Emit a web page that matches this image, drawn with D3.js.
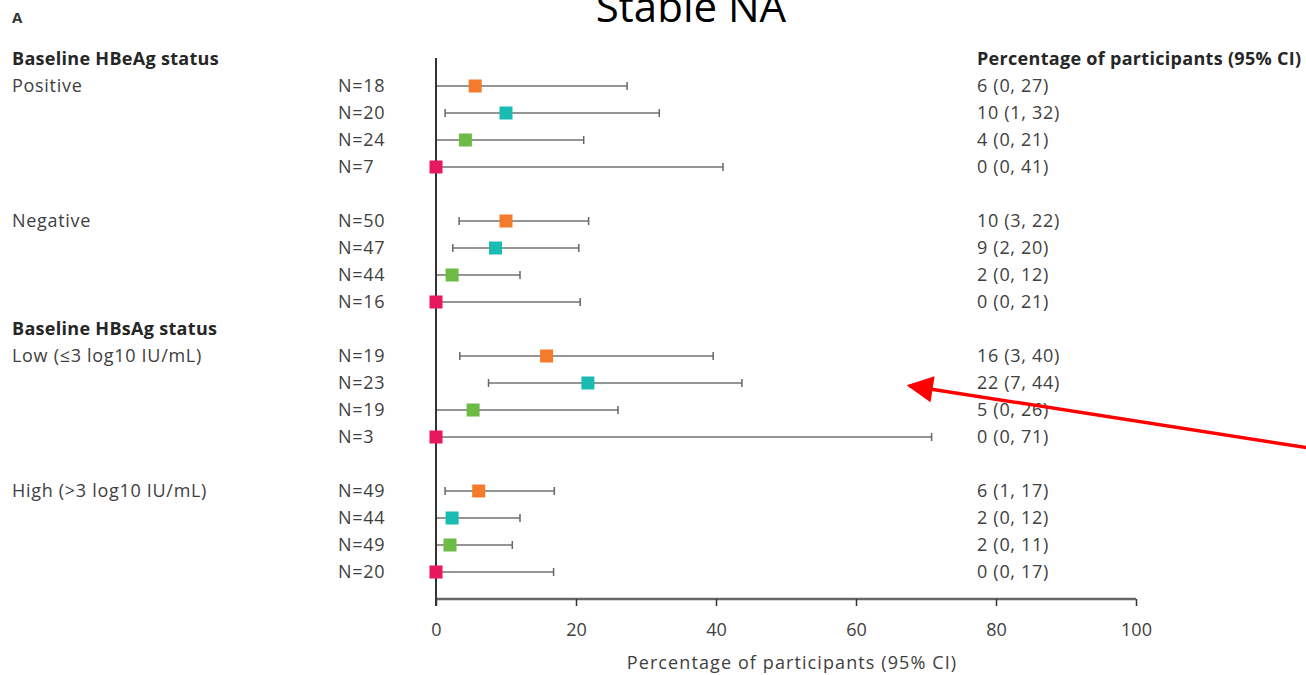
<!DOCTYPE html>
<html>
<head>
<meta charset="utf-8">
<script src="https://cdn.jsdelivr.net/npm/d3@7"></script>
<style>
  body { margin: 0; background: #fff; }
  text { font-family: "Open Sans", Lato, sans-serif; }
</style>
</head>
<body>
<div id="viz"></div>
<script>
const width = 1306;
const height = 675;

// group headers and subgroup labels
const headers = ['Baseline HBeAg status', 'Baseline HBsAg status'];
const headerRows = [-1, 9];
const subgroups = ['Positive', 'Negative', 'Low (\u22643 log10 IU/mL)', 'High (>3 log10 IU/mL)'];
const subgroupRows = [0, 5, 10, 15];

// 4 series per subgroup (orange, teal, green, pink)
const seriesColors = ['#F47B2B', '#1ABCB1', '#6CBB45', '#E8185F'];
const nLabels = ['N=18', 'N=20', 'N=24', 'N=7',
                 'N=50', 'N=47', 'N=44', 'N=16',
                 'N=19', 'N=23', 'N=19', 'N=3',
                 'N=49', 'N=44', 'N=49', 'N=20'];
const estimates = [5.6, 10, 4.2, 0,
                   10, 8.5, 2.3, 0,
                   15.8, 21.7, 5.3, 0,
                   6.1, 2.3, 2.0, 0];
const lowers = [0, 1.3, 0, 0,
                3.3, 2.4, 0, 0,
                3.4, 7.5, 0, 0,
                1.3, 0, 0, 0];
const uppers = [27.3, 31.9, 21.1, 41,
                21.8, 20.4, 12, 20.6,
                39.6, 43.7, 26, 70.8,
                16.9, 12, 10.9, 16.8];
const ciLabels = ['6 (0, 27)', '10 (1, 32)', '4 (0, 21)', '0 (0, 41)',
                  '10 (3, 22)', '9 (2, 20)', '2 (0, 12)', '0 (0, 21)',
                  '16 (3, 40)', '22 (7, 44)', '5 (0, 26)', '0 (0, 71)',
                  '6 (1, 17)', '2 (0, 12)', '2 (0, 11)', '0 (0, 17)'];
const xTicks = [0, 20, 40, 60, 80, 100];

// red arrow annotation, in data units [percent, row]
const arrowFrom = [124.5, 13.4];
const arrowTo = [67.6, 11.1];

const rows = nLabels.map((n, i) => {
  const g = Math.floor(i / 4);
  return {
    n: n,
    row: subgroupRows[g] + (i % 4),
    est: estimates[i],
    lo: lowers[i],
    hi: uppers[i],
    label: ciLabels[i],
    color: seriesColors[i % 4]
  };
});

const svg = d3.select('#viz').append('svg')
  .attr('width', width)
  .attr('height', height);

const x = d3.scaleLinear().domain([0, 100]).range([436, 1136]);
const y = d3.scaleLinear().domain([0, 18]).range([86, 572]);
const axisY = 599;

const textCol = '#404040';
const fs = 18;

// helpers for the two text styles
const plain = sel => sel.attr('font-size', fs).attr('letter-spacing', 0.7).attr('fill', textCol);
const bold = sel => sel.attr('font-size', fs).attr('font-weight', 'bold')
  .attr('letter-spacing', 0.3).attr('fill', '#262626');

// title and panel letter
svg.append('text')
  .attr('x', 691).attr('y', 22)
  .attr('text-anchor', 'middle')
  .attr('font-size', 42)
  .attr('fill', '#000')
  .text('Stable NA');
svg.append('text')
  .attr('x', 12).attr('y', 23)
  .attr('font-size', 15).attr('font-weight', 'bold')
  .attr('fill', '#333')
  .text('A');

// headers
svg.selectAll('.hdr')
  .data(headers)
  .join('text')
  .attr('class', 'hdr')
  .attr('x', 12)
  .attr('y', (d, i) => y(headerRows[i]))
  .attr('dy', '0.35em')
  .call(bold)
  .text(d => d);

svg.append('text')
  .attr('x', 977).attr('y', y(-1)).attr('dy', '0.35em')
  .call(bold)
  .text('Percentage of participants (95% CI)');

svg.selectAll('.sub')
  .data(subgroups)
  .join('text')
  .attr('class', 'sub')
  .attr('x', 12)
  .attr('y', (d, i) => y(subgroupRows[i]))
  .attr('dy', '0.35em')
  .call(plain)
  .text(d => d);

// N labels
svg.selectAll('.nlab')
  .data(rows)
  .join('text')
  .attr('class', 'nlab')
  .attr('x', 338)
  .attr('y', d => y(d.row))
  .attr('dy', '0.35em')
  .call(plain)
  .text(d => d.n);

// CI labels on the right
svg.selectAll('.cilab')
  .data(rows)
  .join('text')
  .attr('class', 'cilab')
  .attr('x', 977)
  .attr('y', d => y(d.row))
  .attr('dy', '0.35em')
  .call(plain)
  .text(d => d.label);

// CI lines
svg.selectAll('.ci')
  .data(rows)
  .join('line')
  .attr('class', 'ci')
  .attr('x1', d => x(d.lo)).attr('x2', d => x(d.hi))
  .attr('y1', d => y(d.row)).attr('y2', d => y(d.row))
  .attr('stroke', '#959595').attr('stroke-width', 2);

const caps = rows.flatMap(d => [{ v: d.lo, row: d.row }, { v: d.hi, row: d.row }]);
svg.selectAll('.cap')
  .data(caps)
  .join('line')
  .attr('class', 'cap')
  .attr('x1', d => x(d.v)).attr('x2', d => x(d.v))
  .attr('y1', d => y(d.row) - 4).attr('y2', d => y(d.row) + 4)
  .attr('stroke', '#666').attr('stroke-width', 1.5);

// x axis
const xAxis = d3.axisBottom(x)
  .tickValues(xTicks)
  .tickSize(7)
  .tickPadding(17)
  .tickSizeOuter(7);
const gx = svg.append('g')
  .attr('transform', `translate(0,${axisY})`)
  .call(xAxis);
gx.select('.domain').attr('stroke', '#666').attr('stroke-width', 2.5)
  .attr('d', `M${x(0)},0H${x(100)}`);
gx.selectAll('.tick line').attr('stroke', '#333').attr('stroke-width', 1.5);
gx.selectAll('.tick text')
  .attr('font-family', '"Open Sans", sans-serif')
  .attr('font-size', fs)
  .attr('fill', textCol);

svg.append('text')
  .attr('x', 792).attr('y', 663).attr('dy', '0.35em')
  .attr('text-anchor', 'middle')
  .attr('font-size', 18)
  .attr('letter-spacing', 1.1)
  .attr('fill', textCol)
  .text('Percentage of participants (95% CI)');

// vertical reference line at 0
svg.append('line')
  .attr('x1', x(0)).attr('x2', x(0))
  .attr('y1', 58).attr('y2', axisY + 7)
  .attr('stroke', '#333').attr('stroke-width', 2);

// point estimates
const sq = 13;
svg.selectAll('.pt')
  .data(rows)
  .join('rect')
  .attr('class', 'pt')
  .attr('x', d => x(d.est) - sq / 2)
  .attr('y', d => y(d.row) - sq / 2)
  .attr('width', sq).attr('height', sq)
  .attr('fill', d => d.color);

// red arrow
svg.append('defs').append('marker')
  .attr('id', 'head')
  .attr('viewBox', '0 0 10 10')
  .attr('refX', 9).attr('refY', 5)
  .attr('markerWidth', 8).attr('markerHeight', 7.5)
  .attr('markerUnits', 'strokeWidth')
  .attr('orient', 'auto')
  .append('path').attr('d', 'M0,0L10,5L0,10Z').attr('fill', '#FF0000');

svg.append('line')
  .attr('x1', x(arrowFrom[0])).attr('y1', y(arrowFrom[1]))
  .attr('x2', x(arrowTo[0])).attr('y2', y(arrowTo[1]))
  .attr('stroke', '#FF0000').attr('stroke-width', 3.5)
  .attr('marker-end', 'url(#head)');
</script>
</body>
</html>
